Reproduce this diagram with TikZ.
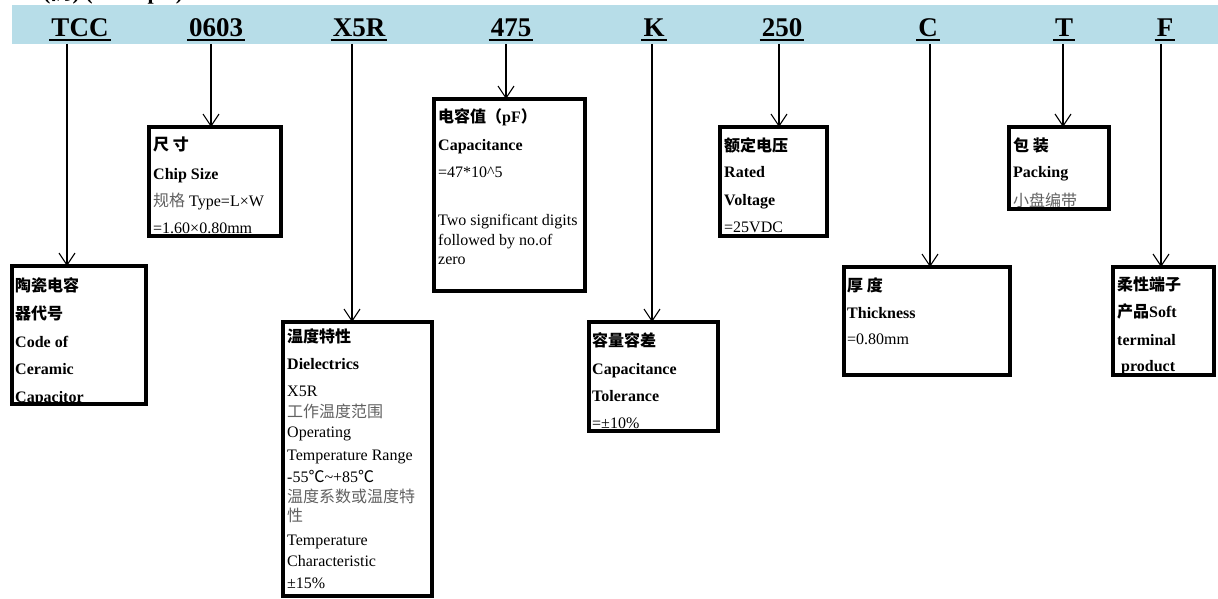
\documentclass[tikz,border=0pt]{standalone}
\usepackage{fontspec}
\setmainfont{Liberation Serif}
\newfontfamily\cjk{Noto Sans CJK SC}
\usetikzlibrary{arrows.meta}
\definecolor{band}{HTML}{B7DDE8}
\definecolor{soft}{gray}{0.38}
\newcommand{\zh}[1]{{\cjk #1}}
\newcommand{\zhs}[1]{{\cjk\color{soft}#1}}
\begin{document}
\begin{tikzpicture}[x=1pt,y=-1pt,
  box/.style={draw, line width=3.8pt, anchor=north west, inner sep=0pt, outer sep=0pt},
  lab/.style={anchor=base, inner sep=0pt, font=\fontsize{27}{27}\selectfont\bfseries},
  tx/.style={anchor=base west, inner sep=0pt, font=\fontsize{16}{16}\selectfont},
  hd/.style={anchor=base west, inner sep=0pt, font=\fontsize{16}{16}\selectfont\bfseries},
  arr/.style={line width=1.1pt, -{Straight Barb[length=12pt,width=16pt]}},
  uline/.style={line width=2pt}]
\useasboundingbox (0,0) rectangle (1218,599);
% clipped title
\node[anchor=base west, inner sep=0pt, font=\fontsize{22}{22}\selectfont\bfseries] (title) at (43,0) {(\zh{例}) (Example)};
% band
\fill[band] (12,5) rectangle (1218,44);
% labels with underline
\foreach \n/\t/\x in {TCC/TCC/80, sz/0603/216, di/X5R/359, ca/475/511, to/K/654, vo/250/782, th/C/928, pk/T/1064, sf/F/1165}{
  \node[lab] (l\n) at (\x,37) {\t};
  \draw[uline] ([shift={(-2pt,-3.5pt)}]l\n.base west) -- ([shift={(2pt,-3.5pt)}]l\n.base east);
}
% texts
% TCC
\node[hd] (t1a) at (15,291) {\zh{陶瓷电容}};
\node[hd] (t1b) at (15,319) {\zh{器代号}};
\node[hd] (t1c) at (15,347) {Code of};
\node[hd] (t1d) at (15,374) {Ceramic};
\node[hd] (t1e) at (15,402) {Capacitor};
% chip size
\node[hd] (t2a) at (153,150) {\zh{尺 寸}};
\node[hd] (t2b) at (153,179) {Chip Size};
\node[tx] (t2c) at (153,206) {\zhs{规格} Type=L×W};
\node[tx] (t2d) at (153,233) {=1.60×0.80mm};
% dielectrics
\node[hd] (t3a) at (287,342) {\zh{温度特性}};
\node[hd] (t3b) at (287,369) {Dielectrics};
\node[tx] (t3c) at (287,396) {X5R};
\node[tx] (t3d) at (287,417) {\zhs{工作温度范围}};
\node[tx] (t3e) at (287,437) {Operating};
\node[tx] (t3f) at (287,460) {Temperature Range};
\node[tx] (t3g) at (287,482) {-55\zh{℃}\textasciitilde+85\zh{℃}};
\node[tx] (t3h) at (287,502) {\zhs{温度系数或温度特}};
\node[tx] (t3i) at (287,521) {\zhs{性}};
\node[tx] (t3j) at (287,545) {Temperature};
\node[tx] (t3k) at (287,566) {Characteristic};
\node[tx] (t3l) at (287,588) {±15\%};
% capacitance
\node[hd] (t4a) at (438,123) {\zh{电容值（}pF\zh{）}};
\node[hd] (t4b) at (438,150) {Capacitance};
\node[tx] (t4c) at (438,178) {=47*10\textasciicircum5};
\node[tx] (t4d) at (438,225) {Two significant digits};
\node[tx] (t4e) at (438,245) {followed by no.of};
\node[tx] (t4f) at (438,264) {zero};
% tolerance
\node[hd] (t5a) at (592,346) {\zh{容量容差}};
\node[hd] (t5b) at (592,374) {Capacitance};
\node[hd] (t5c) at (592,401) {Tolerance};
\node[tx] (t5d) at (592,428) {=±10\%};
% voltage
\node[hd] (t6a) at (724,151) {\zh{额定电压}};
\node[hd] (t6b) at (724,178) {Rated};
\node[hd] (t6c) at (724,205) {Voltage};
\node[tx] (t6d) at (724,232) {=25VDC};
% thickness
\node[hd] (t7a) at (847,291) {\zh{厚 度}};
\node[hd] (t7b) at (847,318) {Thickness};
\node[tx] (t7c) at (847,344) {=0.80mm};
% packing
\node[hd] (t8a) at (1013,151) {\zh{包 装}};
\node[hd] (t8b) at (1013,177) {Packing};
\node[tx] (t8c) at (1013,206) {\zhs{小盘编带}};
% soft terminal
\node[hd] (t9a) at (1117,290) {\zh{柔性端子}};
\node[hd] (t9b) at (1117,317) {\zh{产品}Soft};
\node[hd] (t9c) at (1117,345) {terminal};
\node[hd] (t9d) at (1121,371) {product};
% boxes
\node[box, minimum width=134, minimum height=138] (bTCC) at (12,266) {};
\node[box, minimum width=132, minimum height=109] (bsz) at (149,127) {};
\node[box, minimum width=149, minimum height=274] (bdi) at (283,322) {};
\node[box, minimum width=151, minimum height=192] (bca) at (434,99) {};
\node[box, minimum width=129, minimum height=109] (bto) at (589,322) {};
\node[box, minimum width=107, minimum height=109] (bvo) at (720,127) {};
\node[box, minimum width=166, minimum height=108] (bth) at (844,267) {};
\node[box, minimum width=100, minimum height=82] (bpk) at (1009,127) {};
\node[box, minimum width=101, minimum height=108] (bsf) at (1113,267) {};
% arrows
\foreach \n/\x in {TCC/67, sz/211, di/352, ca/506, to/652, vo/779, th/930, pk/1063, sf/1161}{
  \coordinate (a\n) at (\x,44);
  \draw[arr] (a\n) -- (a\n |- b\n.north);
}
\end{tikzpicture}
\end{document}
